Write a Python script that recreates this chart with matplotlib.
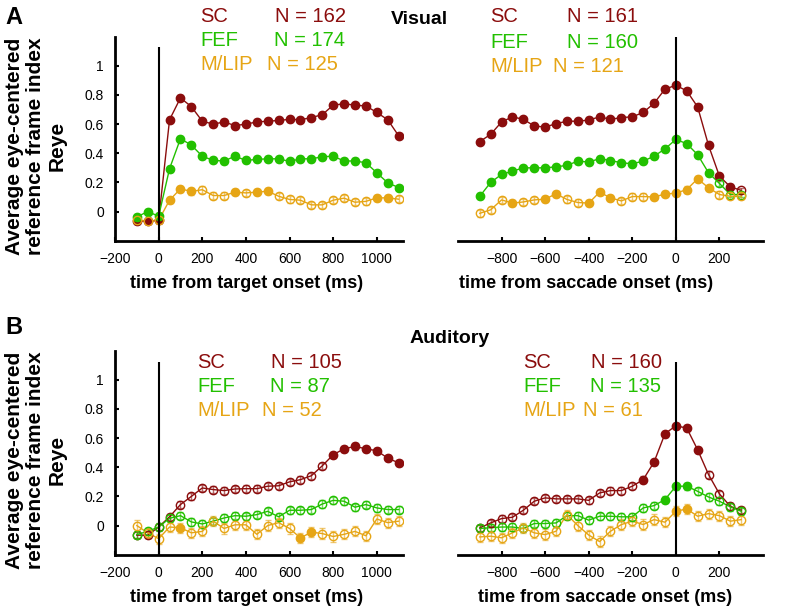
import numpy as np
import matplotlib.pyplot as plt

plt.rcParams['font.family'] = ['Liberation Sans', 'DejaVu Sans']

# --- DATA --- #
t_target = [-100, -50, 0, 50, 100, 150, 200, 250, 300, 350, 400, 450, 500,
            550, 600, 650, 700, 750, 800, 850, 900, 950, 1000, 1050, 1100]
t_saccade = [-900, -850, -800, -750, -700, -650, -600, -550, -500, -450, -400,
             -350, -300, -250, -200, -150, -100, -50, 0, 50, 100, 150, 200, 250, 300]

# Visual, target aligned
sc_vis_tgt = [-0.065, -0.065, -0.06, 0.63, 0.78, 0.72, 0.62, 0.60, 0.615, 0.59, 0.60, 0.615, 0.62,
              0.625, 0.633, 0.63, 0.645, 0.665, 0.73, 0.74, 0.73, 0.725, 0.68, 0.63, 0.52]
fef_vis_tgt = [-0.037, 0.0, -0.032, 0.294, 0.50, 0.456, 0.38, 0.351, 0.347, 0.38, 0.351, 0.358, 0.362,
               0.362, 0.344, 0.362, 0.362, 0.376, 0.38, 0.347, 0.347, 0.335, 0.266, 0.197, 0.165]
lip_vis_tgt = [-0.055, -0.066, -0.06, 0.078, 0.156, 0.138, 0.15, 0.11, 0.11, 0.133, 0.128, 0.133, 0.14,
               0.105, 0.083, 0.078, 0.046, 0.046, 0.078, 0.092, 0.064, 0.07, 0.094, 0.094, 0.085]
sc_vis_tgt_fill = [1] * 25
fef_vis_tgt_fill = [1] * 25
lip_vis_tgt_fill = [0, 0, 0, 1, 1, 1, 0, 0, 0, 1, 0, 1, 1, 0, 0, 0, 0, 0, 0, 0, 0, 0, 1, 1, 0]

# Visual, saccade aligned
sc_vis_sac = [0.48, 0.53, 0.615, 0.65, 0.633, 0.587, 0.58, 0.603, 0.62, 0.62, 0.628, 0.65, 0.633,
              0.645, 0.65, 0.68, 0.743, 0.84, 0.867, 0.828, 0.718, 0.454, 0.243, 0.17, 0.145]
fef_vis_sac = [0.105, 0.2, 0.255, 0.277, 0.30, 0.30, 0.30, 0.307, 0.317, 0.346, 0.34, 0.363, 0.35,
               0.335, 0.328, 0.346, 0.38, 0.43, 0.495, 0.466, 0.39, 0.266, 0.193, 0.117, 0.117]
lip_vis_sac = [-0.012, 0.012, 0.08, 0.058, 0.066, 0.08, 0.085, 0.122, 0.083, 0.062, 0.058, 0.133, 0.094,
               0.073, 0.103, 0.103, 0.1, 0.12, 0.126, 0.151, 0.225, 0.163, 0.117, 0.105, 0.105]
sc_vis_sac_fill = [1] * 24 + [0]
fef_vis_sac_fill = [1] * 22 + [0, 0, 0]
lip_vis_sac_fill = [0, 0, 0, 1, 0, 0, 1, 1, 0, 0, 1, 1, 1, 0, 0, 0, 1, 1, 1, 1, 1, 1, 0, 0, 0]

# Auditory, target aligned
sc_aud_tgt = [-0.066, -0.066, -0.01, 0.06, 0.144, 0.2, 0.258, 0.247, 0.24, 0.251, 0.253, 0.253, 0.27,
              0.273, 0.30, 0.315, 0.342, 0.41, 0.486, 0.527, 0.543, 0.527, 0.513, 0.463, 0.43]
fef_aud_tgt = [-0.062, -0.04, -0.01, 0.05, 0.068, 0.025, 0.011, 0.03, 0.052, 0.068, 0.064, 0.075, 0.098,
               0.06, 0.105, 0.105, 0.11, 0.148, 0.173, 0.167, 0.126, 0.144, 0.121, 0.11, 0.11]
lip_aud_tgt = [0.0, -0.05, -0.09, -0.01, -0.015, -0.05, -0.04, 0.03, -0.02, 0.005, 0.005, -0.06, 0.0,
               0.02, -0.02, -0.085, -0.045, -0.055, -0.075, -0.06, -0.04, -0.07, 0.045, 0.02, 0.03]
sc_aud_tgt_fill = [0] * 18 + [1] * 7
fef_aud_tgt_fill = [0] * 25
lip_aud_tgt_fill = [0, 0, 0, 0, 1, 0, 0, 0, 0, 0, 0, 0, 0, 0, 0, 1, 1, 0, 0, 0, 0, 0, 0, 0, 0]

# Auditory, saccade aligned
sc_aud_sac = [-0.016, 0.018, 0.048, 0.057, 0.105, 0.167, 0.19, 0.183, 0.183, 0.183, 0.173, 0.224, 0.24,
              0.24, 0.27, 0.315, 0.436, 0.63, 0.685, 0.669, 0.52, 0.35, 0.217, 0.132, 0.105]
fef_aud_sac = [-0.02, -0.015, -0.01, -0.01, -0.02, 0.014, 0.014, 0.018, 0.068, 0.068, 0.037, 0.064, 0.064,
               0.06, 0.06, 0.121, 0.137, 0.178, 0.27, 0.27, 0.235, 0.196, 0.167, 0.128, 0.098]
lip_aud_sac = [-0.078, -0.073, -0.084, -0.05, -0.016, -0.05, -0.062, -0.039, 0.075, 0.0, -0.065, -0.11, -0.039,
               0.007, 0.03, 0.007, 0.041, 0.023, 0.098, 0.114, 0.064, 0.082, 0.068, 0.03, 0.041]
sc_aud_sac_fill = [0] * 15 + [1] * 6 + [0] * 4
fef_aud_sac_fill = [0] * 17 + [1, 1, 1] + [0] * 5
lip_aud_sac_fill = [0] * 18 + [1, 1] + [0] * 5

# error bar half-widths (approx)
err_vis = {'SC': 0.018, 'FEF': 0.02, 'M/LIP': 0.022}
err_aud = {'SC': 0.022, 'FEF': 0.025, 'M/LIP': 0.035}

n_counts = {
    'vis_tgt': ['162', '174', '125'],
    'vis_sac': ['161', '160', '121'],
    'aud_tgt': ['105', '87', '52'],
    'aud_sac': ['160', '135', '61'],
}

areas = ['SC', 'FEF', 'M/LIP']
colors = {'SC': '#8b0d0d', 'FEF': '#22c000', 'M/LIP': '#e6a515'}
# ---------------- #

W, H = 803, 613
fig = plt.figure(figsize=(W / 100, H / 100), dpi=100)


def px_axes(x0, y0, x1, y1):
    return fig.add_axes([x0 / W, 1 - y1 / H, (x1 - x0) / W, (y1 - y0) / H])


def draw(ax, t, y, err, fill, color):
    t = np.array(t)
    y = np.array(y)
    f = np.array(fill, dtype=bool)
    ax.errorbar(t, y, yerr=err, fmt='none', ecolor=color, alpha=0.6,
                elinewidth=1, capsize=2, capthick=1, zorder=2)
    ax.plot(t, y, '-', color=color, lw=1, zorder=3)
    ax.plot(t[f], y[f], 'o', ms=6, mfc=color, mec=color, mew=1, zorder=4)
    ax.plot(t[~f], y[~f], 'o', ms=6, mfc='none', mec=color, mew=1, zorder=4)


def style(ax, left_axis, xlim, xticks, vtop):
    ax.set_xlim(*xlim)
    ax.set_ylim(-0.2, 1.2)
    for s in ['top', 'right']:
        ax.spines[s].set_visible(False)
    ax.spines['bottom'].set_linewidth(2)
    ax.set_xticks(xticks)
    ax.set_xticklabels([str(v).replace('-', '\u2212') for v in xticks])
    ax.tick_params(axis='x', direction='in', length=3, width=1.5, labelsize=10, pad=8)
    if left_axis:
        ax.spines['left'].set_linewidth(2)
        ax.set_yticks([0, 0.2, 0.4, 0.6, 0.8, 1])
        ax.set_yticklabels(['0', '0.2', '0.4', '0.6', '0.8', '1'])
        ax.tick_params(axis='y', direction='in', length=3, width=1.5, labelsize=10, pad=8)
    else:
        ax.spines['left'].set_visible(False)
        ax.set_yticks([])
    ax.vlines(0, -0.2, vtop, color='black', lw=1.5, zorder=5)


panels = [
    # key, box, time, series, fills, err, left axis, xlim, ticks, top of zero line
    ('vis_tgt', (115, 36.7, 403, 240.7), t_target,
     [sc_vis_tgt, fef_vis_tgt, lip_vis_tgt], [sc_vis_tgt_fill, fef_vis_tgt_fill, lip_vis_tgt_fill],
     err_vis, True, (-200, 1120), [-200, 0, 200, 400, 600, 800, 1000], 1.13),
    ('vis_sac', (458, 36.7, 763, 240.7), t_saccade,
     [sc_vis_sac, fef_vis_sac, lip_vis_sac], [sc_vis_sac_fill, fef_vis_sac_fill, lip_vis_sac_fill],
     err_vis, False, (-1000, 400), [-800, -600, -400, -200, 0, 200], 1.2),
    ('aud_tgt', (115, 350.7, 403, 554.7), t_target,
     [sc_aud_tgt, fef_aud_tgt, lip_aud_tgt], [sc_aud_tgt_fill, fef_aud_tgt_fill, lip_aud_tgt_fill],
     err_aud, True, (-200, 1120), [-200, 0, 200, 400, 600, 800, 1000], 1.12),
    ('aud_sac', (458, 350.7, 763, 554.7), t_saccade,
     [sc_aud_sac, fef_aud_sac, lip_aud_sac], [sc_aud_sac_fill, fef_aud_sac_fill, lip_aud_sac_fill],
     err_aud, False, (-1000, 400), [-800, -600, -400, -200, 0, 200], 1.12),
]

for key, box, t, series, fills, err, left_axis, xlim, ticks, vtop in panels:
    ax = px_axes(*box)
    for area, y, fl in zip(areas, series, fills):
        draw(ax, t, y, err[area], fl, colors[area])
    style(ax, left_axis, xlim, ticks, vtop)


def ftext(x, y, s, **kw):
    fig.text(x / W, 1 - y / H, s, **kw)


# legends (area name, N)
legend_pos = {
    'vis_tgt': (200, [16, 41, 64], [275, 274, 267]),
    'vis_sac': (490, [17, 42, 66], [567, 567, 553]),
    'aud_tgt': (197, [363, 387, 411], [271, 270, 262]),
    'aud_sac': (523, [363, 387, 410], [591, 590, 583]),
}
for key, (xa, ys, xns) in legend_pos.items():
    for area, yy, xn, n in zip(areas, ys, xns, n_counts[key]):
        ftext(xa, yy, area, color=colors[area], fontsize=14.5, va='center', ha='left')
        ftext(xn, yy, f'N = {n}', color=colors[area], fontsize=14.5, va='center', ha='left')

ftext(391, 19, 'Visual', fontsize=14, fontweight='bold', va='center')
ftext(410, 339, 'Auditory', fontsize=14, fontweight='bold', va='center')
ftext(5, 17, 'A', fontsize=17, fontweight='bold', va='center')
ftext(5, 327, 'B', fontsize=17, fontweight='bold', va='center')

ylab = 'Average eye-centered\nreference frame index\nReye'
for yc in [146, 460]:
    ftext(36, yc, ylab, fontsize=15, fontweight='bold', rotation=90,
          ha='center', va='center', multialignment='center', linespacing=1.15)

xlab_kw = dict(fontsize=13, fontweight='bold', ha='center', va='center')
ftext(247, 283, 'time from target onset (ms)', **xlab_kw)
ftext(586, 283, 'time from saccade onset (ms)', **xlab_kw)
ftext(247, 598, 'time from target onset (ms)', **xlab_kw)
ftext(605, 598, 'time from saccade onset (ms)', **xlab_kw)

fig.savefig('out.png', dpi=100)
